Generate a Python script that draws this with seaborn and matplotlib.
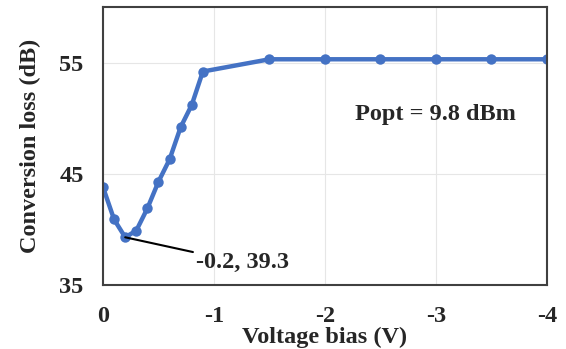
import matplotlib
matplotlib.use("Agg")
import matplotlib.pyplot as plt
import seaborn as sns
import pandas as pd

# Data
voltage = [0, -0.1, -0.2, -0.3, -0.4, -0.5, -0.6, -0.7, -0.8, -0.9, -1.5, -2, -2.5, -3, -3.5, -4]
conv_loss = [43.8, 40.9, 39.3, 39.9, 41.9, 44.3, 46.3, 49.2, 51.2, 54.2, 55.3, 55.3, 55.3, 55.3, 55.3, 55.3]
x_ticks = [0, -1, -2, -3, -4]
y_ticks = [35, 45, 55]

df = pd.DataFrame({"Voltage bias (V)": voltage, "Conversion loss (dB)": conv_loss})

sns.set_style("whitegrid")
plt.rcParams["font.family"] = ["Liberation Serif", "DejaVu Serif"]
plt.rcParams["font.weight"] = "bold"
plt.rcParams["axes.unicode_minus"] = False

fs = 17.5
fig = plt.figure(figsize=(5.66, 3.49), dpi=100)
ax = fig.add_axes([0.182, 0.183, 0.784, 0.797])

sns.lineplot(data=df, x="Voltage bias (V)", y="Conversion loss (dB)", ax=ax,
             color="#4472C4", linewidth=3.2, marker="o", markersize=7.5,
             markeredgewidth=0)

ax.set_xlim(0, -4)
ax.set_ylim(35, 60)
ax.set_xticks(x_ticks)
ax.set_xticklabels([str(t) for t in x_ticks])
ax.set_yticks(y_ticks)
ax.tick_params(length=0, labelsize=fs)
ax.tick_params(axis="y", pad=14)
ax.tick_params(axis="x", pad=15)
for lab in ax.get_xticklabels() + ax.get_yticklabels():
    lab.set_fontweight("bold")

ax.grid(True, color="#E6E6E6", linewidth=0.8)
for s in ax.spines.values():
    s.set_color("#404040")
    s.set_linewidth(1.5)

ax.set_xlabel("Voltage bias (V)", fontsize=fs, fontweight="bold", labelpad=0)
ax.set_ylabel("Conversion loss (dB)", fontsize=fs, fontweight="bold", labelpad=13)

ax.annotate("-0.2, 39.3", xy=(-0.2, 39.3), xytext=(-0.84, 37.0),
            fontsize=fs, fontweight="bold", va="center", ha="left",
            arrowprops=dict(arrowstyle="-", color="black", lw=1.5,
                            shrinkA=0, shrinkB=0))
ax.text(-3.0, 50.3, "Popt = 9.8 dBm", fontsize=fs, fontweight="bold",
        ha="center", va="center")

fig.savefig("out.png", dpi=100)
